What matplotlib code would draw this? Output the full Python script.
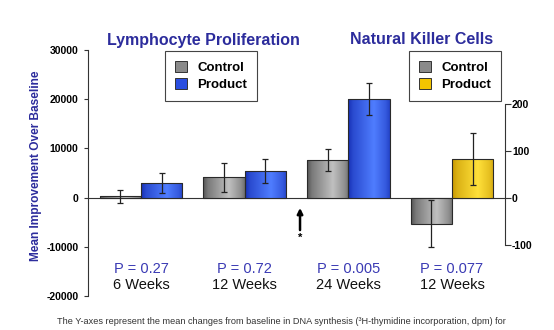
import numpy as np
import matplotlib
matplotlib.use("Agg")
import matplotlib.pyplot as plt
from matplotlib import transforms
from matplotlib.patches import Patch
from matplotlib.colors import to_rgb

plt.rcParams['font.family'] = ['Liberation Sans', 'DejaVu Sans']
plt.rcParams['axes.unicode_minus'] = False

# ---- data -------------------------------------------------------------
week_labels = ['6 Weeks', '12 Weeks', '24 Weeks', '12 Weeks']
p_labels = ['P = 0.27', 'P = 0.72', 'P = 0.005', 'P = 0.077']

# Lymphocyte proliferation (left axis, dpm)
lymph_control = [300, 4100, 7700]
lymph_control_err = [1300, 3000, 2250]
lymph_product = [2950, 5450, 20000]
lymph_product_err = [2100, 2470, 3200]

# Natural killer cells (right axis)
nk_control = [-55]
nk_control_err = [50]
nk_product = [83]
nk_product_err = [56]

left_ticks = [-20000, -10000, 0, 10000, 20000, 30000]
right_ticks = [-100, 0, 100, 200]

TITLE_BLUE = '#2c2c9c'
P_BLUE = '#3a3ab4'

# ---- figure -----------------------------------------------------------
W, H = 554, 330
fig = plt.figure(figsize=(W / 100, H / 100), dpi=100)
fig.patch.set_facecolor('white')

def fx(px):
    return px / W

def fy(py):
    return 1 - py / H

ax = fig.add_axes([fx(88), fy(296), fx(505) - fx(88), fy(50) - fy(296)])
ax.set_facecolor('none')
ax2 = ax.twinx()
ax2.set_facecolor('none')

bw = 0.4
x_lymph = np.arange(len(lymph_control))
x_nk = np.arange(len(lymph_control), len(lymph_control) + len(nk_control))


def shade(axis, bars, dark, light):
    """Fill each bar with a horizontal cylinder-like gradient."""
    dark = np.array(to_rgb(dark))
    light = np.array(to_rgb(light))
    t = np.linspace(0, 1, 96)
    p = np.interp(t, [0, 0.12, 0.62, 0.9, 1.0], [0.0, 0.35, 1.0, 0.55, 0.25])
    img = dark[None, None, :] * (1 - p[None, :, None]) + light[None, None, :] * p[None, :, None]
    for b in bars:
        x0, w = b.get_x(), b.get_width()
        y0, h = b.get_y(), b.get_height()
        lo, hi = min(y0, y0 + h), max(y0, y0 + h)
        im = axis.imshow(img, extent=[x0, x0 + w, lo, hi], aspect='auto',
                         origin='lower', interpolation='bilinear', zorder=2)
        im.set_clip_path(b)


bars_c = ax.bar(x_lymph - bw / 2, lymph_control, bw, facecolor='none',
                edgecolor='#2a2a2a', linewidth=0.8, zorder=3)
bars_p = ax.bar(x_lymph + bw / 2, lymph_product, bw, facecolor='none',
                edgecolor='#2a2a2a', linewidth=0.8, zorder=3)
shade(ax, bars_c, '#555555', '#c0c0c0')
shade(ax, bars_p, '#1630b6', '#4f7dff')
ax.errorbar(x_lymph - bw / 2, lymph_control, yerr=lymph_control_err, fmt='none',
            ecolor='#222222', elinewidth=0.9, capsize=2.2, capthick=0.9, zorder=4)
ax.errorbar(x_lymph + bw / 2, lymph_product, yerr=lymph_product_err, fmt='none',
            ecolor='#222222', elinewidth=0.9, capsize=2.2, capthick=0.9, zorder=4)

nk_c = ax2.bar(x_nk - bw / 2, nk_control, bw, facecolor='none',
               edgecolor='#2a2a2a', linewidth=0.8, zorder=3)
nk_p = ax2.bar(x_nk + bw / 2, nk_product, bw, facecolor='none',
               edgecolor='#2a2a2a', linewidth=0.8, zorder=3)
shade(ax2, nk_c, '#555555', '#c0c0c0')
shade(ax2, nk_p, '#c79800', '#ffe03a')
ax2.errorbar(x_nk - bw / 2, nk_control, yerr=nk_control_err, fmt='none',
             ecolor='#222222', elinewidth=0.9, capsize=2.2, capthick=0.9, zorder=4)
ax2.errorbar(x_nk + bw / 2, nk_product, yerr=nk_product_err, fmt='none',
             ecolor='#222222', elinewidth=0.9, capsize=2.2, capthick=0.9, zorder=4)

# baseline
ax.axhline(0, color='#333333', linewidth=0.8, zorder=1)

# ---- axes limits / spines --------------------------------------------
ax.set_xlim(-0.511, 3.511)
ax.set_ylim(-20000, 30000)
# right axis shares the zero line with the left axis
px_per_unit = 0.47
ax2.set_ylim(-(296 - 198) / px_per_unit, (198 - 50) / px_per_unit)

for s in ['top', 'right', 'bottom']:
    ax.spines[s].set_visible(False)
for s in ['top', 'left', 'bottom']:
    ax2.spines[s].set_visible(False)
ax.spines['left'].set_color('#333333')
ax.spines['left'].set_linewidth(0.8)
ax2.spines['right'].set_color('#333333')
ax2.spines['right'].set_linewidth(0.8)
ax2.spines['right'].set_bounds(right_ticks[0], right_ticks[-1])

ax.set_xticks([])
ax.set_yticks(left_ticks)
ax.set_yticklabels([str(v) for v in left_ticks])
ax.tick_params(axis='y', direction='out', length=3, width=0.8, pad=4,
               labelsize=7.5, colors='#333333', labelcolor='black')
for lab in ax.get_yticklabels():
    lab.set_fontweight('bold')

ax2.set_yticks(right_ticks)
ax2.set_yticklabels([str(v) for v in right_ticks])
ax2.tick_params(axis='y', direction='out', length=4, width=0.8, pad=1,
                labelsize=7.5, colors='#333333', labelcolor='black')
for lab in ax2.get_yticklabels():
    lab.set_fontweight('bold')

# ---- arrow and asterisk between 12 and 24 weeks -----------------------
ax.annotate('', xy=(1.534, -2100), xytext=(1.534, -6600),
            arrowprops=dict(arrowstyle='-|>', color='black', lw=1.8,
                            mutation_scale=8, shrinkA=0, shrinkB=0), zorder=5)
ax.text(1.534, -8200, '*', ha='center', va='center', fontsize=8,
        fontweight='bold', color='black')

# ---- group labels -----------------------------------------------------
trans = transforms.blended_transform_factory(ax.transData, fig.transFigure)
group_x = np.concatenate([x_lymph, x_nk])
for gx, pl, wl in zip(group_x, p_labels, week_labels):
    ax.text(gx, fy(269), pl, transform=trans, ha='center', va='center',
            fontsize=10.5, color=P_BLUE, clip_on=False)
    ax.text(gx, fy(285), wl, transform=trans, ha='center', va='center',
            fontsize=10.5, color='#111111', clip_on=False)

# ---- titles -----------------------------------------------------------
fig.text(fx(203.5), fy(40), 'Lymphocyte Proliferation', ha='center', va='center',
         fontsize=11.5, fontweight='bold', color=TITLE_BLUE)
fig.text(fx(422), fy(40), 'Natural Killer Cells', ha='center', va='center',
         fontsize=11.5, fontweight='bold', color=TITLE_BLUE)
fig.text(fx(36), fy(166), 'Mean Improvement Over Baseline', rotation=90,
         ha='center', va='center', fontsize=8.6, fontweight='bold', color=TITLE_BLUE)

# ---- legends ----------------------------------------------------------
legend_kw = dict(loc='upper left', bbox_transform=fig.transFigure, borderaxespad=0,
                 fancybox=False, edgecolor='#444444', framealpha=1,
                 handlelength=0.9, handleheight=0.9, handletextpad=0.8,
                 labelspacing=0.3, borderpad=0.75,
                 prop={'weight': 'bold', 'size': 9.5})
leg1 = fig.legend(handles=[Patch(facecolor='#8a8a8a', edgecolor='#333333', lw=0.7),
                           Patch(facecolor='#2a4ee0', edgecolor='#333333', lw=0.7)],
                  labels=['Control', 'Product'], bbox_to_anchor=(fx(165), fy(51)),
                  **legend_kw)
leg1.get_frame().set_linewidth(0.8)
leg2 = fig.legend(handles=[Patch(facecolor='#8a8a8a', edgecolor='#333333', lw=0.7),
                           Patch(facecolor='#f2c400', edgecolor='#333333', lw=0.7)],
                  labels=['Control', 'Product'], bbox_to_anchor=(fx(409), fy(51)),
                  **legend_kw)
leg2.get_frame().set_linewidth(0.8)

# ---- footnote ---------------------------------------------------------
fig.text(fx(57), fy(321),
         'The Y-axes represent the mean changes from baseline in DNA synthesis '
         '(\u00b3H-thymidine incorporation, dpm) for',
         ha='left', va='center', fontsize=6.6, color='#333333')

fig.savefig('out.png', dpi=100, facecolor=fig.get_facecolor())
